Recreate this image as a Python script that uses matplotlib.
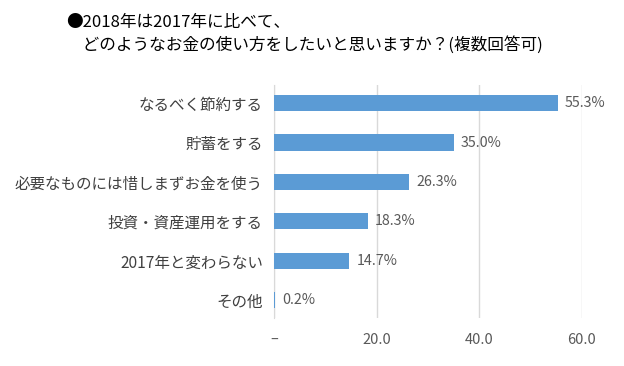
import matplotlib

matplotlib.use("Agg")
import matplotlib.pyplot as plt

plt.rcParams["font.family"] = ["Noto Sans CJK JP", "DejaVu Sans"]

categories = [
    "なるべく節約する",
    "貯蓄をする",
    "必要なものには惜しまずお金を使う",
    "投資・資産運用をする",
    "2017年と変わらない",
    "その他",
]
values = [55.3, 35.0, 26.3, 18.3, 14.7, 0.2]
x_ticks = [0, 20, 40, 60]
x_tick_labels = ["–", "20.0", "40.0", "60.0"]
title_lines = [
    "●2018年は2017年に比べて、",
    "　どのようなお金の使い方をしたいと思いますか？(複数回答可)",
]

bar_color = "#5B9BD5"
text_gray = "#595959"

fig = plt.figure(figsize=(6.24, 3.66), dpi=100)
ax = fig.add_axes([274 / 624, 1 - 318 / 366, (582 - 274) / 624, (318 - 85) / 366])

positions = list(range(len(categories)))
ax.barh(positions, values, height=0.41, color=bar_color, zorder=3)
ax.set_ylim(5.45, -0.46)
ax.set_xlim(0, 60)

for pos, val in zip(positions, values):
    ax.annotate(f"{val:.1f}%", (val, pos), xytext=(5, 0), textcoords="offset points",
                va="center", ha="left", fontsize=10.3, color=text_gray,
                annotation_clip=False)

ax.set_yticks(positions)
ax.set_yticklabels(categories, fontsize=11.2, color="#404040")
ax.set_xticks(x_ticks)
ax.set_xticklabels(x_tick_labels, fontsize=10.5, color=text_gray)
ax.tick_params(axis="y", length=0, pad=8)
ax.tick_params(axis="x", length=0, pad=11)

ax.grid(axis="x", color="#D9D9D9", linewidth=1.0, zorder=0)
for side in ["top", "right", "bottom"]:
    ax.spines[side].set_visible(False)
ax.spines["left"].set_color("#D9D9D9")

fig.text(66 / 624, 1 - 23 / 366, title_lines[0], fontsize=12, color="black",
         va="center", ha="left")
fig.text(66 / 624, 1 - 45 / 366, title_lines[1], fontsize=12, color="black",
         va="center", ha="left")

fig.savefig("out.png", dpi=100)
